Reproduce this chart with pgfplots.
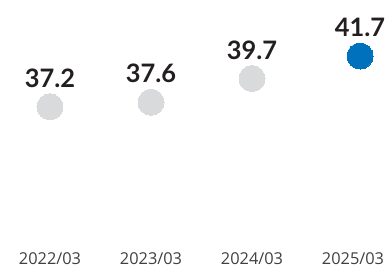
\documentclass[border=0pt]{standalone}
\usepackage{pgfplots}
\pgfplotsset{compat=1.18}
\usepackage{fontspec}
\setmainfont{Open Sans}
\newfontfamily\numfont{Lato}
\definecolor{dotgrey}{HTML}{D9DADC}
\definecolor{dotblue}{HTML}{0071BC}
\definecolor{numtext}{HTML}{231F20}
\definecolor{labtext}{HTML}{404040}
\begin{document}
\begin{tikzpicture}[x=1bp,y=1bp]
\useasboundingbox (0,0) rectangle (386,268);
\begin{axis}[
  at={(0,0)}, anchor=south west,
  scale only axis, width=386bp, height=268bp,
  xmin=-0.495, xmax=3.3267,
  ymin=22.89, ymax=46.67,
  axis line style={draw=none},
  clip=false,
  xtick={0,1,2,3.0},
  xticklabels={2022/03,2023/03,2024/03,2025/03},
  ytick=\empty,
  major tick length=0pt,
  xtick style={draw=none},
  xticklabel style={anchor=center, yshift=9bp, inner sep=0pt, font=\fontsize{16.4}{18}\selectfont, text=labtext},
  /pgf/number format/fixed, /pgf/number format/fixed zerofill, /pgf/number format/precision=1,
  /pgf/number format/assume math mode=true,
  nodes near coords={\numfont\bfseries\fontsize{25.5}{26}\selectfont\pgfmathprintnumber{\pgfplotspointmeta}},
  nodes near coords style={anchor=base, yshift=19.5bp, inner sep=0pt, text=numtext},
]
\addplot[only marks, mark=*, mark size=13bp, color=dotgrey, mark options={draw=dotgrey, fill=dotgrey, line width=0pt},
  point meta=y]
  coordinates {(0,37.2) (1,37.6) (2,39.7)};
\addplot[only marks, mark=*, mark size=13bp, color=dotblue, mark options={draw=dotblue, fill=dotblue, line width=0pt},
  point meta=y]
  coordinates {(3.07,41.7)};
\end{axis}
\end{tikzpicture}
\end{document}
